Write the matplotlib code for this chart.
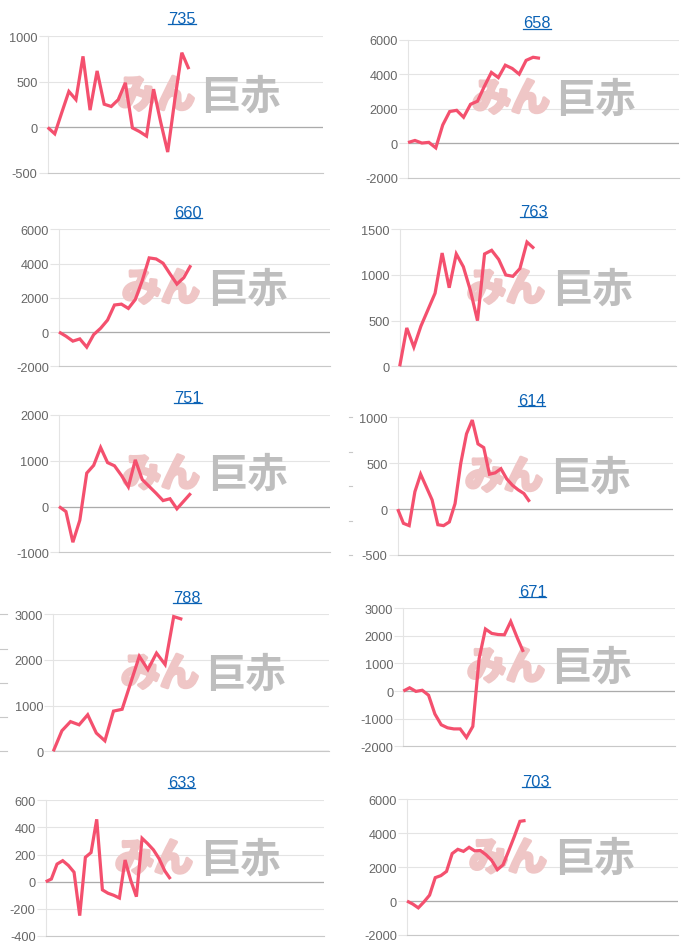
import matplotlib
matplotlib.use("Agg")
import matplotlib.pyplot as plt
import matplotlib.patheffects as pe
from matplotlib.lines import Line2D

W, H = 700, 953

# ---------- data ----------
titles = ["735", "658", "660", "763", "751", "614", "788", "671", "633", "703"]

v735 = [0, -70, 165, 395, 305, 780, 190, 620, 255, 230, 305, 490, -5, -45, -95, 420, 60, -270, 300, 820, 640]
v658 = [30, 150, 0, 40, -280, 1050, 1830, 1900, 1500, 2250, 2430, 3300, 4100, 3800, 4520, 4330, 4000, 4800, 4980, 4920]
v660 = [0, -240, -530, -400, -880, -150, 220, 700, 1580, 1630, 1380, 1900, 3000, 4330, 4270, 4020, 3400, 2800, 3180, 3900]
v763 = [0, 420, 210, 440, 620, 800, 1240, 860, 1230, 1090, 830, 500, 1230, 1270, 1170, 1000, 985, 1070, 1360, 1290]
v751 = [0, -110, -780, -300, 730, 900, 1290, 960, 890, 680, 430, 1020, 590, 440, 290, 130, 170, -50, 120, 290]
v614 = [0, -155, -180, 190, 380, 240, 100, -170, -180, -140, 60, 500, 820, 970, 710, 670, 380, 395, 440, 330, 260, 210, 170, 80]
v788 = [0, 450, 650, 580, 800, 400, 230, 880, 920, 1500, 2080, 1790, 2150, 1900, 2950, 2890]
v671 = [0, 120, -10, 30, -150, -830, -1220, -1330, -1370, -1370, -1680, -1280, 1180, 2250, 2090, 2050, 2040, 2520, 1950, 1420]
v633 = [0, 20, 130, 155, 120, 70, -250, 180, 215, 460, -60, -85, -100, -120, 160, 10, -110, 320, 280, 235, 170, 80, 20]
v703 = [0, -170, -400, -50, 350, 1380, 1500, 1750, 2800, 3050, 2930, 3170, 2960, 2980, 2730, 2400, 1850, 2130, 2950, 3800, 4700, 4750]

series = [v735, v658, v660, v763, v751, v614, v788, v671, v633, v703]

ticks = [
    [-500, 0, 500, 1000],
    [-2000, 0, 2000, 4000, 6000],
    [-2000, 0, 2000, 4000, 6000],
    [0, 500, 1000, 1500],
    [-1000, 0, 1000, 2000],
    [-500, 0, 500, 1000],
    [0, 1000, 2000, 3000],
    [-2000, -1000, 0, 1000, 2000, 3000],
    [-400, -200, 0, 200, 400, 600],
    [-2000, 0, 2000, 4000, 6000],
]

# number of category slots on each x axis
slots = [39, 39, 39, 39, 39, 48, 32, 43, 49, 48]

# ---------- layout in pixels ----------
# left, right, top, bottom of each plot area
boxes = [
    (47.7, 323, 37.3, 174), (408, 679, 40.7, 178.5),
    (59, 329.5, 230.3, 367.3), (399.7, 675.5, 230.3, 367.3),
    (59, 329.5, 416, 553.3), (397.7, 673, 418.3, 556),
    (53.3, 328.5, 615.3, 752.3), (403.3, 675, 609.3, 747.3),
    (45.7, 323.5, 801.3, 937), (407, 678, 800.3, 936),
]
# title centre x, underline y
heads = [
    (182, 24.5), (537, 29.5), (188, 219), (533.7, 218), (188, 404),
    (531.7, 406.7), (187, 604), (532.7, 597.7), (181.7, 789.3), (536, 788.3),
]
# watermark: pink left, gray left, centre y
marks = [
    (117, 200, 97), (472, 555, 100), (122, 207, 290), (467, 552, 290), (122, 207, 475.5),
    (465, 550, 478), (121, 205, 675), (467, 551, 668.5), (115, 200, 860.5), (469, 554, 859.5),
]

LINE = "#F4506E"
GRID = "#E4E4E4"
TXT = "#666666"
LINK = "#0B62B5"
PINK = "#EFC6C6"
GRAY = "#BEBEBE"
FONT = ["Liberation Sans", "DejaVu Sans"]
CJK = ["Noto Sans CJK JP", "DejaVu Sans"]

fig = plt.figure(figsize=(W / 100, H / 100), dpi=100, facecolor="white")


def fx(x):
    return x / W


def fy(y):
    return 1 - y / H


for i, vals in enumerate(series):
    l, r, t, b = boxes[i]
    ax = fig.add_axes([fx(l), fy(b), (r - l) / W, (b - t) / H], facecolor="none")
    tk = ticks[i]
    ax.set_xlim(0, slots[i])
    ax.set_ylim(tk[0], tk[-1])
    ax.set_xticks([])
    ax.set_yticks(tk)
    ax.set_yticklabels([str(v) for v in tk], fontfamily=FONT, fontsize=9.2, color=TXT)
    ax.tick_params(axis="y", length=6.5, width=0.8, color=GRID, pad=0.8)
    for s in ("top", "right"):
        ax.spines[s].set_visible(False)
    ax.spines["left"].set_color(GRID)
    ax.spines["left"].set_linewidth(0.8)
    ax.spines["bottom"].set_color("#C8C8C8")
    ax.spines["bottom"].set_linewidth(0.8)
    ax.grid(axis="y", color=GRID, linewidth=0.8, zorder=0)
    ax.set_axisbelow(True)
    ax.axhline(0, color="#ABABAB", linewidth=0.9, zorder=1)

    p, g, yc = marks[i]
    ax.text((p - l) / (r - l), (b - yc) / (b - t), "みん", transform=ax.transAxes, ha="left", va="center",
            fontfamily=CJK, fontsize=28, fontweight="bold", color=PINK, zorder=1.5, clip_on=False,
            path_effects=[pe.withStroke(linewidth=2.5, foreground=PINK)])
    ax.text((g - l) / (r - l), (b - yc) / (b - t), "巨赤", transform=ax.transAxes, ha="left", va="center",
            fontfamily=CJK, fontsize=29, fontweight="bold", color=GRAY, zorder=1.5, clip_on=False)

    ax.plot(range(len(vals)), vals, color=LINE, linewidth=2.3, solid_joinstyle="miter",
            solid_capstyle="butt", zorder=3, clip_on=False)

    cx, uy = heads[i]
    fig.text(fx(cx), fy(uy - 1), titles[i], ha="center", va="baseline", fontfamily=FONT,
             fontsize=11.8, color=LINK)
    fig.add_artist(Line2D([fx(cx - 13.7), fx(cx + 13.7)], [fy(uy), fy(uy)], color=LINK, linewidth=0.9))

# cropped tick fragments along the page edges
for y in (615, 650.3, 684.3, 718.3, 752.3):
    fig.add_artist(Line2D([fx(0), fx(7)], [fy(y), fy(y)], color="#C8C8C8", linewidth=0.8))
for y in (418.3, 452.7, 487, 521.5, 556):
    fig.add_artist(Line2D([fx(349), fx(352)], [fy(y), fy(y)], color="#C8C8C8", linewidth=0.8))

fig.savefig("out.png", dpi=100, facecolor="white")
